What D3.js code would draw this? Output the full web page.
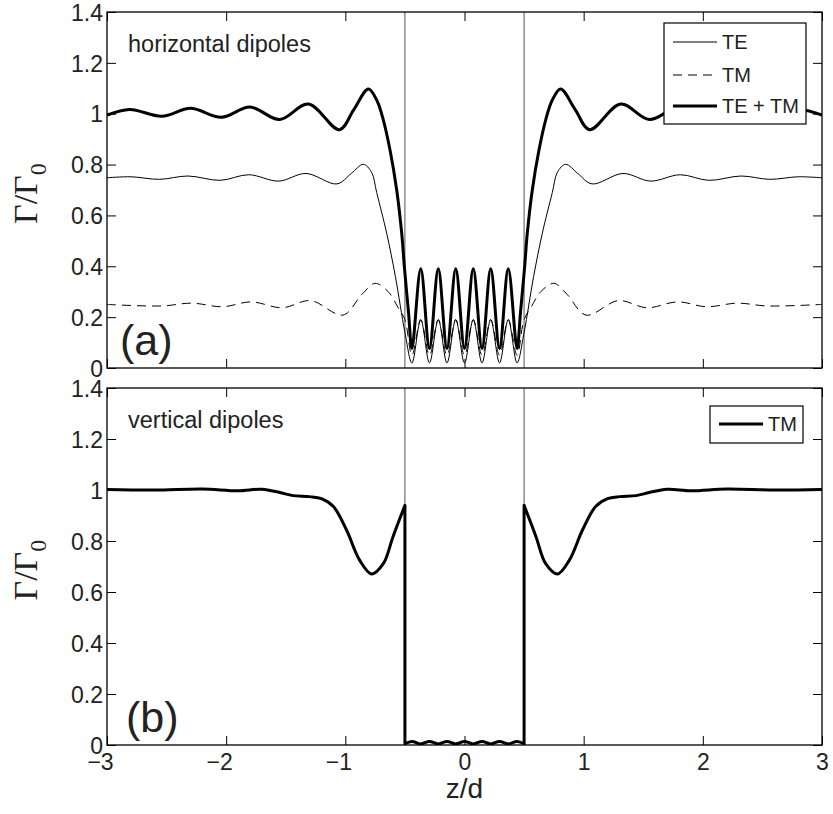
<!DOCTYPE html>
<html>
<head>
<meta charset="utf-8">
<script src="https://cdn.jsdelivr.net/npm/d3@7"></script>
<style>
  html, body { margin: 0; padding: 0; background: #fff; }
  svg { display: block; }
</style>
</head>
<body>
<svg id="chart" width="833" height="814"></svg>
<script>
// ---------------- data ----------------
const xTicks = [-3, -2, -1, 0, 1, 2, 3];
const yTicks = [0, 0.2, 0.4, 0.6, 0.8, 1, 1.2, 1.4];
const interfaces = [-0.5, 0.5];

// (a) horizontal dipoles: TE
const zTE = [-3, -2.80, -2.56, -2.32, -2.05, -1.81, -1.56, -1.33, -1.07, -0.95, -0.849, -0.78, -0.737, -0.653, -0.58, -0.50,
  -0.441, -0.367, -0.294, -0.22, -0.147, -0.0735, 0, 0.0735, 0.147, 0.22, 0.294, 0.367, 0.441,
  0.50, 0.58, 0.653, 0.737, 0.78, 0.849, 0.95, 1.07, 1.33, 1.56, 1.81, 2.05, 2.32, 2.56, 2.80, 3];
const gTE = [0.748, 0.752, 0.742, 0.755, 0.738, 0.760, 0.735, 0.765, 0.724, 0.765, 0.801, 0.77, 0.69, 0.53, 0.36, 0.14,
  0.02, 0.19, 0.02, 0.19, 0.02, 0.19, 0.02, 0.19, 0.02, 0.19, 0.02, 0.19, 0.02,
  0.14, 0.36, 0.53, 0.69, 0.77, 0.801, 0.765, 0.724, 0.765, 0.735, 0.760, 0.738, 0.755, 0.742, 0.752, 0.748];

// (a) horizontal dipoles: TM
const zTM = [-3, -2.54, -2.29, -2.03, -1.79, -1.53, -1.29, -1.02, -0.86, -0.75, -0.64, -0.56, -0.50,
  -0.441, -0.367, -0.294, -0.22, -0.147, -0.0735, 0, 0.0735, 0.147, 0.22, 0.294, 0.367, 0.441,
  0.50, 0.56, 0.64, 0.75, 0.86, 1.02, 1.29, 1.53, 1.79, 2.03, 2.29, 2.54, 3];
const gTM = [0.250, 0.244, 0.255, 0.241, 0.260, 0.237, 0.265, 0.208, 0.29, 0.333, 0.30, 0.24, 0.19,
  0.05, 0.19, 0.05, 0.19, 0.05, 0.19, 0.05, 0.19, 0.05, 0.19, 0.05, 0.19, 0.05,
  0.19, 0.24, 0.30, 0.333, 0.29, 0.208, 0.265, 0.237, 0.260, 0.241, 0.255, 0.244, 0.250];

// (a) horizontal dipoles: TE + TM
const zSum = [-3, -2.81, -2.54, -2.30, -2.04, -1.80, -1.55, -1.31, -1.05, -0.93, -0.807, -0.737, -0.681, -0.625, -0.569, -0.527, -0.505, -0.47,
  -0.441, -0.367, -0.294, -0.22, -0.147, -0.0735, 0, 0.0735, 0.147, 0.22, 0.294, 0.367, 0.441,
  0.47, 0.505, 0.527, 0.569, 0.625, 0.681, 0.737, 0.807, 0.93, 1.05, 1.31, 1.55, 1.80, 2.04, 2.30, 2.54, 2.81, 3];
const gSum = [0.995, 1.017, 0.990, 1.021, 0.986, 1.026, 0.977, 1.038, 0.937, 1.015, 1.097, 1.054, 0.975, 0.857, 0.70, 0.53, 0.40, 0.22,
  0.077, 0.39, 0.077, 0.39, 0.077, 0.39, 0.077, 0.39, 0.077, 0.39, 0.077, 0.39, 0.077,
  0.22, 0.40, 0.53, 0.70, 0.857, 0.975, 1.054, 1.097, 1.015, 0.937, 1.038, 0.977, 1.026, 0.986, 1.021, 0.990, 1.017, 0.995];

// (b) vertical dipoles: TM (repeated z = jump at the interface)
const zV = [-3, -2.6, -2.2, -1.9, -1.7, -1.55, -1.44, -1.30, -1.20, -1.10, -0.99, -0.88, -0.78, -0.68, -0.60, -0.50, -0.50,
  -0.441, -0.367, -0.294, -0.22, -0.147, -0.0735, 0, 0.0735, 0.147, 0.22, 0.294, 0.367, 0.441,
  0.50, 0.50, 0.60, 0.68, 0.78, 0.88, 0.99, 1.10, 1.20, 1.30, 1.44, 1.55, 1.7, 1.9, 2.2, 2.6, 3];
const gV = [1.002, 1.000, 1.004, 0.997, 1.003, 0.990, 0.978, 0.974, 0.966, 0.935, 0.843, 0.725, 0.671, 0.712, 0.817, 0.940, 0.005,
  0.014, 0.004, 0.014, 0.004, 0.014, 0.004, 0.014, 0.004, 0.014, 0.004, 0.014, 0.004, 0.014,
  0.005, 0.940, 0.817, 0.712, 0.671, 0.725, 0.843, 0.935, 0.966, 0.974, 0.978, 0.990, 1.003, 0.997, 1.004, 1.000, 1.002];

const legendA = ["TE", "TM", "TE + TM"];
const legendB = ["TM"];

// ---------------- drawing ----------------
const SANS = "'Liberation Sans', Arial, Helvetica, sans-serif";
const SERIF = "'Liberation Serif', 'Times New Roman', Times, serif";
const svg = d3.select("#chart");
const X0 = 107, X1 = 822;
const panels = [
  { top: 12, bottom: 368, showX: false, note: "horizontal dipoles", tag: "(a)",
    series: [
      { z: zTE, g: gTE, w: 1, dash: null },
      { z: zTM, g: gTM, w: 1, dash: "9,6" },
      { z: zSum, g: gSum, w: 3, dash: null }
    ],
    legend: legendA },
  { top: 388, bottom: 745, showX: true, note: "vertical dipoles", tag: "(b)",
    series: [ { z: zV, g: gV, w: 3, dash: null } ],
    legend: legendB }
];

const x = d3.scaleLinear().domain([-3, 3]).range([X0, X1]);
const TICK = 9;

// build a path: smooth pieces, straight vertical jumps where z repeats
function buildPath(pts, zs) {
  const smooth = d3.line().curve(d3.curveCatmullRom.alpha(0.5));
  let d = "";
  let seg = [pts[0]];
  for (let i = 1; i < pts.length; i++) {
    if (zs[i] === zs[i - 1]) {
      d += (d ? "L" + smooth(seg).slice(1) : smooth(seg));
      d += "L" + pts[i][0] + "," + pts[i][1];
      seg = [pts[i]];
    } else {
      seg.push(pts[i]);
    }
  }
  if (seg.length > 1) d += (d ? "L" + smooth(seg).slice(1) : smooth(seg));
  return d;
}

panels.forEach((p, pi) => {
  const y = d3.scaleLinear().domain([0, 1.4]).range([p.bottom, p.top]);
  const g = svg.append("g");

  const clipId = "clip" + pi;
  svg.append("clipPath").attr("id", clipId).append("rect")
    .attr("x", X0).attr("y", p.top).attr("width", X1 - X0).attr("height", p.bottom - p.top);

  // interface lines
  g.selectAll("line.iface").data(interfaces).join("line")
    .attr("class", "iface")
    .attr("x1", d => x(d)).attr("x2", d => x(d))
    .attr("y1", p.top).attr("y2", p.bottom)
    .attr("stroke", "#555").attr("stroke-width", 1);

  // curves
  const cg = g.append("g").attr("clip-path", `url(#${clipId})`);
  p.series.forEach(s => {
    const pts = s.z.map((zz, i) => [x(zz), y(s.g[i])]);
    cg.append("path").attr("d", buildPath(pts, s.z))
      .attr("fill", "none").attr("stroke", "#000")
      .attr("stroke-width", s.w)
      .attr("stroke-linejoin", "round")
      .attr("stroke-dasharray", s.dash);
  });

  // axes
  const axB = d3.axisBottom(x).tickValues(xTicks).tickSizeInner(-TICK).tickSizeOuter(0).tickPadding(9)
    .tickFormat(p.showX ? d3.format("") : () => "");
  const axT = d3.axisTop(x).tickValues(xTicks).tickSizeInner(-TICK).tickSizeOuter(0).tickFormat(() => "");
  const axL = d3.axisLeft(y).tickValues(yTicks).tickSizeInner(-TICK).tickSizeOuter(0).tickPadding(4)
    .tickFormat(d3.format(""));
  const axR = d3.axisRight(y).tickValues(yTicks).tickSizeInner(-TICK).tickSizeOuter(0).tickFormat(() => "");

  const gb = g.append("g").attr("transform", `translate(0,${p.bottom})`).call(axB);
  g.append("g").attr("transform", `translate(0,${p.top})`).call(axT);
  const gl = g.append("g").attr("transform", `translate(${X0},0)`).call(axL);
  g.append("g").attr("transform", `translate(${X1},0)`).call(axR);

  g.selectAll(".domain").remove();
  g.selectAll(".tick line").attr("stroke", "#000").attr("stroke-width", 1);
  g.selectAll(".tick text").attr("font-family", SANS)
    .attr("font-size", 23).attr("fill", "#222");
  gb.selectAll(".tick text").attr("dx", d => d < 0 ? -7 : 0);
  gl.selectAll(".tick text").attr("dy", "0.36em");

  // frame
  g.append("rect").attr("x", X0).attr("y", p.top).attr("width", X1 - X0).attr("height", p.bottom - p.top)
    .attr("fill", "none").attr("stroke", "#000").attr("stroke-width", 1.3);

  // y label
  const yl = g.append("text")
    .attr("transform", `translate(37,${(p.top + p.bottom) / 2 + 34}) rotate(-90)`)
    .attr("font-family", SERIF)
    .attr("font-size", 34).attr("text-anchor", "start").attr("fill", "#222");
  yl.append("tspan").text("Γ/Γ");
  yl.append("tspan").text("0").attr("font-size", 24).attr("dy", 9);

  // annotations
  g.append("text").attr("x", X0 + 21).attr("y", p.top + 40)
    .attr("font-family", SANS).attr("font-size", 23.5).attr("fill", "#222").text(p.note);
  g.append("text").attr("x", X0 + 13 + pi * 6).attr("y", p.bottom - 13)
    .attr("font-family", SANS).attr("font-size", 43).attr("fill", "#222").text(p.tag);

  // legend
  const L = pi === 0
    ? { x: 664, y: 23, w: 142, h: 101, rows: [42, 75, 106] }
    : { x: 710, y: 406, w: 93, h: 37, rows: [424] };
  const lg = g.append("g");
  lg.append("rect").attr("x", L.x).attr("y", L.y).attr("width", L.w).attr("height", L.h)
    .attr("fill", "#fff").attr("stroke", "#000").attr("stroke-width", 1.2);
  p.legend.forEach((name, i) => {
    const s = p.series[i];
    const ly = L.rows[i];
    lg.append("line").attr("x1", L.x + 9).attr("x2", L.x + 53).attr("y1", ly).attr("y2", ly)
      .attr("stroke", "#000").attr("stroke-width", s.w).attr("stroke-dasharray", s.dash);
    lg.append("text").attr("x", L.x + 58).attr("y", ly + 7)
      .attr("font-family", SANS).attr("font-size", 20).attr("fill", "#222").text(name);
  });
});

// x label
svg.append("text").attr("x", x(0)).attr("y", 798).attr("text-anchor", "middle")
  .attr("font-family", SANS).attr("font-size", 28).attr("fill", "#222").text("z/d");
</script>
</body>
</html>
